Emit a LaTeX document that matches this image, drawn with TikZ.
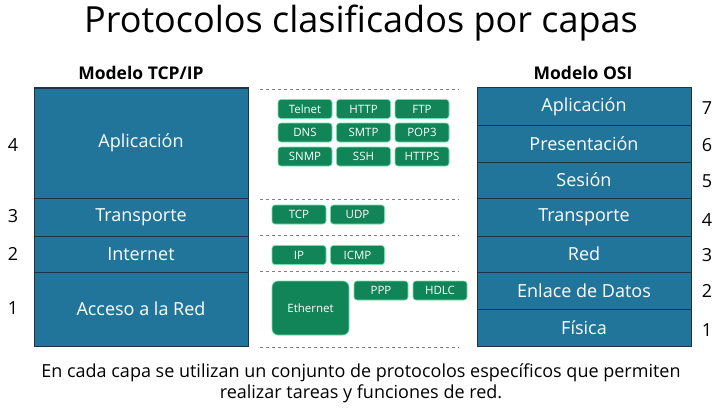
\documentclass[tikz,border=0pt]{standalone}
\usepackage{fontspec}
\setmainfont{Open Sans}
\usetikzlibrary{positioning}
\definecolor{capablue}{RGB}{33,117,155}
\definecolor{capaedge}{RGB}{28,52,70}
\definecolor{protogreen}{RGB}{17,133,87}
\definecolor{protoedge}{RGB}{110,225,170}
\tikzset{capa/.style={draw=capaedge,line width=1pt,fill=capablue,text=white,minimum width=214pt,inner sep=0pt,outer sep=0pt,font=\fontsize{18}{20}\selectfont}}
\tikzset{proto/.style={draw=protoedge,line width=0.6pt,fill=protogreen,text=white,rounded corners=3pt,minimum width=54pt,minimum height=19pt,inner sep=0pt,font=\fontsize{11.5}{13}\selectfont}}
\tikzset{sep/.style={gray,dashed,line width=0.8pt}}
\tikzset{num/.style={font=\fontsize{18}{20}\selectfont}}
\tikzset{head/.style={font=\fontsize{17.5}{20}\selectfont\bfseries}}

\begin{document}
\begin{tikzpicture}[x=1pt,y=-1pt]
        \useasboundingbox (0,0) rectangle (723,412);

        \node[font=\fontsize{36}{42}\selectfont] (title) at (361,23) {Protocolos clasificados por capas};

        % modelo TCP/IP
        \node[head] (tcpip) at (141,73) {Modelo TCP/IP};
        \node[capa,minimum height=110pt] (tapl) at (141,143) {Aplicación};
        \node[capa,minimum height=38pt] (ttra) at (141,217) {Transporte};
        \node[capa,minimum height=36pt] (tint) at (141,254) {Internet};
        \node[capa,minimum height=74pt] (tacc) at (141,309) {Acceso a la Red};
        \node[num] (t4) at (13,145) {4};
        \node[num] (t3) at (13,216) {3};
        \node[num] (t2) at (13,254) {2};
        \node[num] (t1) at (13,308) {1};

        % modelo OSI
        \node[head] (osi) at (583,73) {Modelo OSI};
        \node[capa,minimum height=37pt] (oapl) at (584,106.5) {Aplicación};
        \node[capa,minimum height=37pt] (opre) at (584,143.5) {Presentación};
        \node[capa,minimum height=36pt] (oses) at (584,180) {Sesión};
        \node[capa,minimum height=38pt] (otra) at (584,217) {Transporte};
        \node[capa,minimum height=36pt] (ored) at (584,254) {Red};
        \node[capa,minimum height=37pt] (oenl) at (584,290.5) {Enlace de Datos};
        \node[capa,minimum height=37pt] (ofis) at (584,327.5) {Física};
        \node[num] (o7) at (707,108) {7};
        \node[num] (o6) at (707,145) {6};
        \node[num] (o5) at (707,181) {5};
        \node[num] (o4) at (707,220) {4};
        \node[num] (o3) at (707,255) {3};
        \node[num] (o2) at (707,291) {2};
        \node[num] (o1) at (707,330) {1};

        % separadores
        \draw[sep] (260,89) -- (459,89);
        \draw[sep] (260,199) -- (459,199);
        \draw[sep] (260,235) -- (459,235);
        \draw[sep] (260,271) -- (459,271);
        \draw[sep] (260,347) -- (459,347);

        % protocolos
        \node[proto] (telnet) at (305,109) {Telnet};
        \node[proto] (http) at (363.5,109) {HTTP};
        \node[proto] (ftp) at (422,109) {FTP};
        \node[proto] (dns) at (305,132.5) {DNS};
        \node[proto] (smtp) at (363.5,132.5) {SMTP};
        \node[proto] (pop) at (422,132.5) {POP3};
        \node[proto] (snmp) at (305,156.5) {SNMP};
        \node[proto] (ssh) at (363.5,156.5) {SSH};
        \node[proto] (https) at (422,156.5) {HTTPS};
        \node[proto] (tcp) at (299,214.5) {TCP};
        \node[proto] (udp) at (357.5,214.5) {UDP};
        \node[proto] (ip) at (299,255) {IP};
        \node[proto] (icmp) at (357.5,255) {ICMP};
        \node[proto,minimum width=77pt,minimum height=54pt,rounded corners=6pt] (eth) at (310.5,308) {Ethernet};
        \node[proto] (ppp) at (381,290.5) {PPP};
        \node[proto] (hdlc) at (440,290.5) {HDLC};

        \node[align=center,font=\fontsize{18}{21}\selectfont] (nota) at (361,383)
            {En cada capa se utilizan un conjunto de protocolos específicos que permiten\\
             realizar tareas y funciones de red.};
\end{tikzpicture}
\end{document}
